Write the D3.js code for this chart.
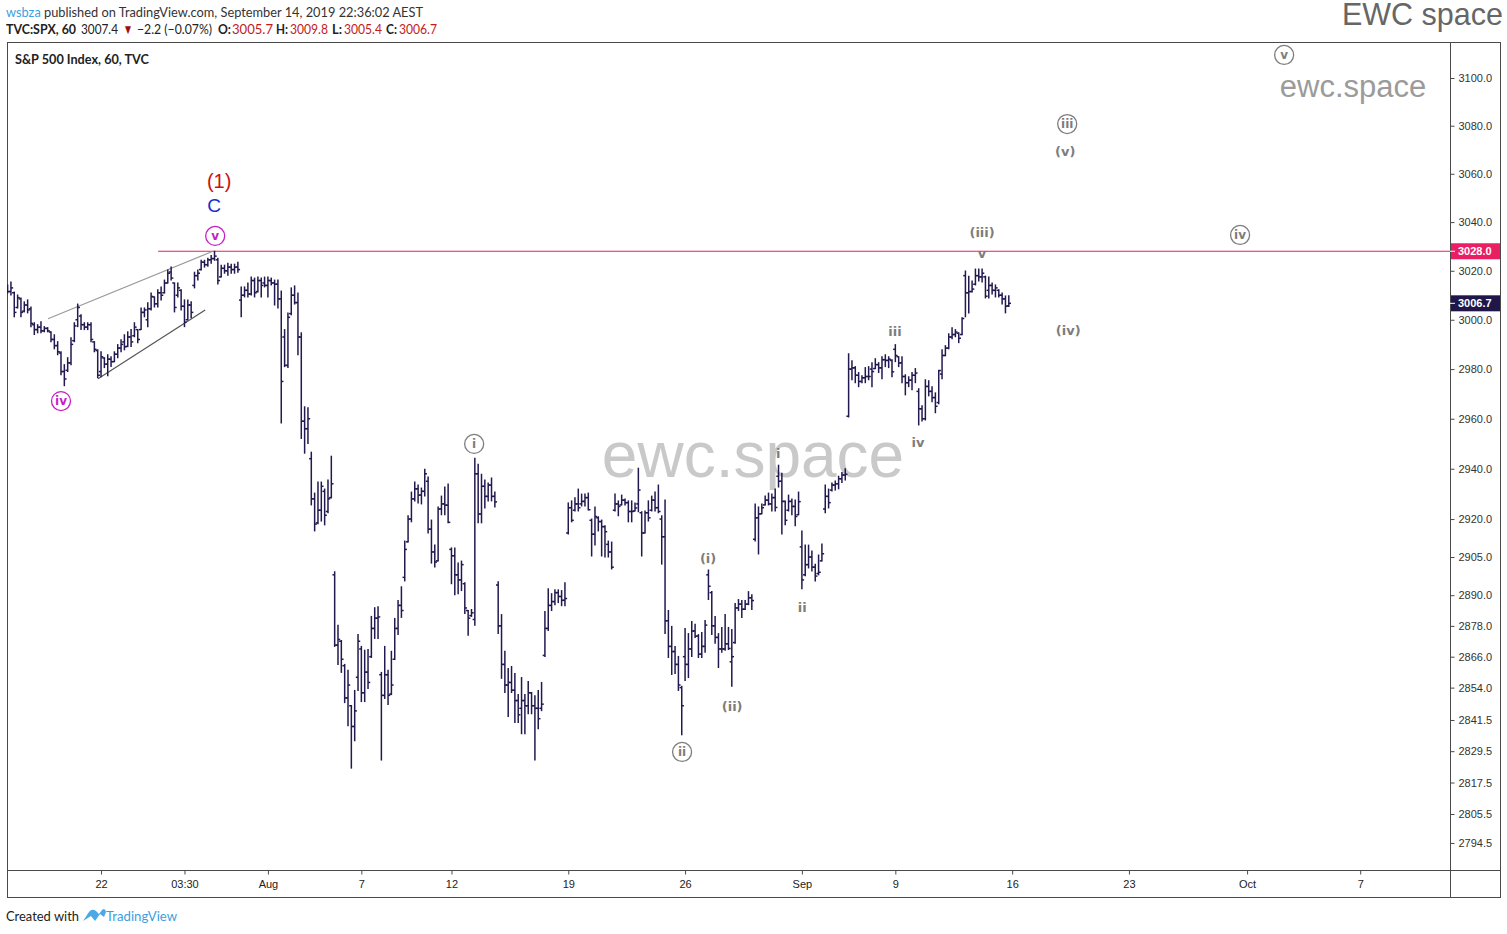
<!DOCTYPE html>
<html><head><meta charset="utf-8">
<script src="https://cdn.jsdelivr.net/npm/d3@7"></script>
<style>
html,body{margin:0;padding:0;background:#fff;}
svg{display:block;}
</style></head><body>
<svg id="c" width="1507" height="934"></svg>
<script>
// ---------------- DATA (SPX 60-min bars, 7 per session, Jul 16 - Sep 13 2019) ----------------
const opens = [
3013,3011.5,3011,3005,3008.5,3003.5,3006,
3004.5,2998,2996,2997,2995.5,2996.5,2995,
2992,2989.5,2986.5,2979,2979.5,2982.5,2991.5,
3000,3001.5,2998,2997,2998,2991,2987.5,
2979,2984.5,2982,2984,2983,2986,2988.5,
2991,2989.2,2993,2993.5,2996,2996,3003,
3000,3004.5,3009.3,3006.5,3011,3011,3015,
3019.5,3015,3010,3012,3005.5,3000,3006,
3014,3018,3020.5,3023.5,3022.5,3024.5,3025,
3024.5,3017.5,3021,3020,3021.5,3020.5,3021.5,
3008,3010,3012,3010.5,3016,3011.5,3016,
3015,3014,3016,3015,3014.5,3008.5,2993,
2981.5,3002.5,3010,3007,2993,2959,2956,
2944,2928,2918.5,2923.5,2931,2923,2928.5,
2898,2870.5,2872,2862.5,2850,2847,2839,
2858,2869,2852,2860,2866,2877,2881,
2859,2851,2859,2851.5,2865,2877,2886,
2897,2911,2920,2928,2932,2929.5,2931,
2935,2916,2907,2903.5,2924,2926,2925.5,
2908,2905.5,2898,2896,2894.5,2884,2882,
2880.5,2938,2922,2933,2929,2933.5,2929,
2894,2878,2863,2855,2856,2853,2849,
2846,2849,2847,2852,2847,2846,2846,
2866.5,2877,2886,2887.5,2891,2889.5,2888,
2914.5,2924.5,2923.5,2926,2926,2927,2928.5,
2919.5,2914,2920.5,2919,2917,2910,2907,
2923.5,2926,2925.6,2927.5,2926.5,2923,2923.2,
2926,2922.5,2914.5,2922.5,2923.5,2927.5,2924.5,
2920,2913,2880,2870,2868,2863,2854,
2866,2863,2869,2876,2874,2867,2870,
2898,2891,2878,2873.5,2869,2869,2871,
2864,2871.5,2885,2886.5,2884.5,2886.5,2889,
2912,2920.5,2922.1,2925.6,2927.5,2926,2928.5,
2937,2935,2927,2923.5,2927,2925,2921.7,
2909,2898,2902,2905,2901,2898.5,2903.5,
2924,2929,2931.5,2933.5,2934,2936,2937.5,
2961,2980,2980.5,2977.5,2975,2976.5,2977,
2980,2980.2,2981.8,2980.5,2983.8,2983.5,2983.5,
2988,2985,2982.5,2977,2974.5,2975.5,2977.5,
2971,2964,2960,2973,2971,2968.5,2966.5,
2978,2985.5,2988.5,2993,2994,2994.5,2994,
3018,3011,3011.5,3014.5,3018,3017.5,3017.5,
3012,3014,3012,3012,3010,3008.5,3005.7];
const highs = [
3014.2,3015.4,3011.3,3010.1,3008.9,3007.3,3008.1,
3005.2,2998.8,2998.0,2999.2,2997.2,2996.8,2995.1,
2993.9,2991.1,2987.0,2981.8,2984.6,2992.7,2998.8,
3006.4,3002.0,2998.8,2998.8,2998.8,2991.1,2987.8,
2987.0,2984.6,2985.8,2985.0,2987.0,2989.9,2991.9,
2993.9,2995.1,2996.0,2998.8,2996.0,3004.8,3004.8,
3006.9,3010.9,3009.3,3012.2,3013.4,3016.2,3020.3,
3021.5,3015.0,3015.0,3012.2,3008.1,3008.1,3007.3,
3019.4,3020.3,3024.3,3024.3,3025.1,3026.3,3028.0,
3025.1,3022.3,3022.3,3023.1,3022.7,3022.7,3023.5,
3013.4,3013.4,3015.0,3017.4,3017.0,3017.4,3017.0,
3017.4,3017.4,3017.0,3016.2,3016.2,3011.7,2996.0,
3002.8,3013.0,3013.8,3010.9,2994.7,2964.8,2964.4,
2946.6,2930.3,2934.7,2934.7,2931.9,2935.5,2945.0,
2899.2,2878.2,2872.3,2863.0,2860.7,2847.1,2852.9,
2874.6,2870.0,2868.5,2868.8,2881.7,2885.1,2885.5,
2859.9,2870.0,2860.7,2868.1,2880.9,2887.9,2893.3,
2911.3,2921.3,2930.7,2934.7,2933.5,2932.3,2939.8,
2936.7,2919.6,2909.7,2924.8,2929.1,2932.7,2933.9,
2908.6,2908.6,2902.6,2903.4,2894.9,2884.0,2884.4,
2944.2,2941.8,2937.8,2935.5,2934.3,2936.3,2930.7,
2895.3,2882.4,2868.1,2861.4,2862.2,2859.5,2851.3,
2857.9,2851.3,2856.4,2852.1,2850.9,2852.9,2856.0,
2883.6,2892.5,2890.6,2892.1,2892.1,2891.8,2894.9,
2926.4,2927.2,2928.4,2931.9,2929.9,2929.9,2930.3,
2920.0,2924.8,2920.9,2919.6,2917.3,2911.3,2910.9,
2929.9,2927.2,2929.5,2928.0,2927.2,2927.2,2926.4,
2940.2,2922.9,2923.2,2927.2,2929.1,2930.7,2933.5,
2921.3,2927.6,2884.0,2877.8,2870.0,2866.1,2854.5,
2877.0,2875.0,2879.7,2878.6,2874.6,2875.4,2880.1,
2899.9,2891.4,2881.7,2875.0,2877.4,2882.4,2877.4,
2876.6,2886.7,2888.3,2887.9,2887.9,2891.4,2890.2,
2926.0,2924.8,2926.0,2929.1,2930.3,2929.9,2931.9,
2941.4,2938.2,2927.2,2929.5,2928.0,2927.6,2930.7,
2915.3,2909.7,2909.7,2907.4,2902.2,2905.8,2910.1,
2933.5,2931.9,2934.3,2935.1,2937.0,2938.5,2940.0,
2986.2,2983.4,2981.0,2978.6,2977.3,2980.6,2981.0,
2982.6,2984.2,2982.6,2985.0,2985.8,2985.0,2983.8,
2989.9,2985.0,2985.0,2977.7,2976.9,2978.6,2980.2,
2972.1,2965.2,2975.7,2975.3,2972.9,2970.4,2979.5,
2987.8,2989.5,2994.3,2996.8,2996.0,2994.7,3000.8,
3019.9,3017.8,3015.8,3020.7,3020.7,3020.7,3017.8,
3017.4,3015.0,3014.2,3012.2,3010.9,3009.7,3009.8];
const lows = [
3010.9,3010.1,3001.2,3004.8,3001.2,3003.2,3002.8,
2997.2,2994.0,2994.7,2994.7,2995.1,2995.1,2991.1,
2988.2,2985.8,2977.7,2973.3,2979.0,2981.8,2991.1,
2997.2,2996.0,2996.0,2996.0,2991.1,2987.0,2976.5,
2976.9,2980.6,2977.3,2981.0,2983.0,2984.6,2987.0,
2987.8,2989.1,2989.1,2993.1,2990.7,2996.0,3001.2,
2997.2,3004.0,3005.2,3005.2,3008.1,3010.9,3015.0,
3016.2,3003.2,3009.3,3004.0,2997.2,3000.0,3000.8,
3013.0,3016.2,3020.3,3021.5,3021.9,3023.1,3024.3,
3014.6,3017.4,3019.0,3018.2,3019.0,3019.0,3019.4,
3001.2,3009.3,3009.3,3010.1,3009.3,3011.3,3009.3,
3013.4,3009.3,3014.2,3006.0,3004.8,2958.3,2981.0,
2980.6,3002.0,3006.4,2985.8,2952.1,2946.2,2950.1,
2925.6,2915.3,2918.1,2919.2,2917.7,2922.5,2928.4,
2870.0,2863.0,2859.9,2848.2,2839.3,2823.0,2833.5,
2852.9,2848.6,2848.6,2853.7,2865.7,2873.1,2873.1,
2826.1,2849.8,2847.5,2851.3,2864.9,2874.6,2881.3,
2895.6,2910.9,2918.9,2927.2,2926.4,2926.0,2929.1,
2914.5,2902.6,2901.1,2903.4,2921.7,2921.7,2918.5,
2894.5,2890.2,2890.6,2891.8,2882.8,2874.3,2881.7,
2878.2,2918.5,2918.5,2924.4,2927.2,2927.2,2924.8,
2875.0,2857.6,2852.1,2842.8,2852.1,2840.5,2840.5,
2836.2,2836.2,2843.9,2843.9,2826.1,2838.1,2845.1,
2866.1,2876.2,2884.0,2886.3,2887.1,2885.9,2885.9,
2914.1,2918.9,2923.2,2923.2,2925.2,2925.2,2923.6,
2905.4,2909.7,2915.3,2905.4,2905.0,2905.0,2900.3,
2923.2,2921.3,2925.6,2925.6,2918.9,2918.9,2923.2,
2922.9,2905.4,2914.5,2919.2,2923.2,2923.2,2922.5,
2902.2,2875.0,2865.7,2859.1,2859.5,2852.9,2835.8,
2856.8,2857.9,2866.1,2873.5,2865.7,2865.7,2867.7,
2888.3,2874.6,2871.2,2861.8,2867.7,2868.5,2868.8,
2854.5,2871.2,2884.0,2881.3,2884.4,2886.3,2884.4,
2911.3,2906.2,2922.1,2925.6,2925.6,2923.2,2923.2,
2932.7,2914.1,2917.7,2923.2,2921.7,2917.3,2921.7,
2892.5,2897.6,2900.7,2899.5,2895.6,2898.0,2903.4,
2922.5,2924.4,2931.1,2931.5,2932.0,2934.5,2935.5,
2960.7,2975.7,2974.5,2972.9,2974.5,2974.5,2975.7,
2972.9,2980.2,2978.6,2976.1,2981.0,2980.6,2976.9,
2983.0,2981.0,2974.5,2969.6,2972.9,2971.7,2974.5,
2957.5,2959.1,2959.5,2969.2,2966.8,2962.4,2966.0,
2976.1,2985.4,2988.2,2992.3,2993.1,2990.7,2993.9,
3001.2,3002.8,3011.3,3014.2,3015.8,3015.4,3008.9,
3008.9,3010.5,3009.3,3009.3,3006.4,3002.8,3005.4];
const closes = [
3011.5,3013,3003,3009,3003,3006,3004,
2998.5,2996,2997,2995.5,2996.5,2995.5,2992,
2989.5,2987,2979,2976,2982.5,2990,2997.5,
3005,2998,2997,2998,2992,2988,2977.5,
2985,2982,2984,2983,2986,2988.5,2990,
2989,2993,2991,2997,2992,3003,3004,
3004.5,3009.5,3006.5,3011,3010,3015,3019,
3017,3005,3013,3005.5,2999,3006,3003,
3018,3019,3023.5,3022.5,3024.5,3025,3026,
3016,3021,3020,3021.5,3020.5,3021.5,3020.5,
3010,3012,3010.5,3016,3011,3016,3014,
3014,3016,3015,3014.5,3008.5,2975,2981.5,
3001,3010,3007,2993,2959,2956,2960,
2928,2918,2923.5,2933,2921.5,2928,2934,
2870.5,2872.7,2865,2850,2855,2839,2845,
2872,2852,2860,2856,2877,2881,2881.5,
2851,2859,2851,2855,2877,2886,2884,
2908,2920,2928,2932,2929.5,2931,2938,
2916,2907,2903,2924,2926,2925.5,2918.7,
2905.5,2898,2896,2902,2885,2881,2883.1,
2938,2922,2933,2929,2933.5,2929,2926.8,
2878,2863,2855,2856,2853,2849,2843.5,
2849,2847,2852,2847,2846,2842,2847.6,
2877,2886,2887.5,2891,2889.5,2888,2888.7,
2924.5,2919.5,2926,2924.5,2927,2928.5,2923.7,
2914,2921,2919,2917,2915,2907,2901,
2926,2925,2927.5,2926.5,2923,2923,2924.4,
2931.5,2914.5,2922.5,2920.5,2927.5,2924.5,2923,
2913,2880,2870,2868,2863,2855,2847,
2863,2869,2876,2874,2867,2870,2878.3,
2893.5,2878,2873.5,2869,2869,2871,2869.2,
2866,2885,2886.5,2884.5,2886.5,2889,2887.9,
2920.5,2922,2924.5,2927.5,2926,2928.5,2924.6,
2935,2927,2919.5,2927,2925,2921,2926.9,
2896,2902,2905,2901,2897.5,2899,2906.3,
2929,2926.5,2933.5,2934,2936,2937.5,2937.8,
2980,2980.5,2977.5,2975,2976.5,2977,2977,
2979,2981.8,2980.5,2983.8,2983.5,2984,2978.9,
2985.5,2982.5,2977,2974.5,2975.5,2977.5,2978.4,
2964,2960,2973,2971,2968.5,2965,2979.4,
2985.5,2988.5,2993,2994,2995,2992.5,3000.5,
3011,3011.5,3012.5,3018,3017.5,3019,3009.6,
3014,3012,3013,3010,3008.5,3005.5,3006.7];

// x axis: bar index of each tick and its label (AEST session boundaries)
const xTickIndex  = [28, 53, 78, 106, 133, 168, 203, 238, 266, 301, 336, 371.4, 405.3];
const xTickLabels = ["22","03:30","Aug","7","12","19","26","Sep","9","16","23","Oct","7"];
// y axis (log scale) tick values
const yTickValues = [3100,3080,3060,3040,3020,3000,2980,2960,2940,2920,2905,2890,2878,2866,2854,2841.5,2829.5,2817.5,2805.5,2794.5];

const resistanceLevel = 3028.0;
const resistanceStartIndex = 45.1;
const lastPrice = 3006.7;
// wedge trend lines [barIndex, price]
const wedgeUpper = [[12.1, 3000.4], [61.5, 3028.0]];
const wedgeLower = [[27.1, 2976.1], [59.2, 3004.0]];

// Elliott-wave annotations: text, bar index, price, style
const waveLabels = [
  {t:"(1)",  i:63.4,  p:3057.0, s:"red"},
  {t:"C",    i:61.9,  p:3047.1, s:"blue"},
  {t:"v",    i:62.2,  p:3034.3, s:"magentaCircle"},
  {t:"iv",   i:16.0,  p:2967.1, s:"magentaCircle"},
  {t:"i",    i:139.8, p:2949.9, s:"grayCircle"},
  {t:"ii",   i:202.1, p:2829.2, s:"grayCircle"},
  {t:"(i)",  i:209.9, p:2904.6, s:"gray"},
  {t:"(ii)", i:217.1, p:2846.9, s:"gray"},
  {t:"i",    i:230.9, p:2946.3, s:"gray"},
  {t:"ii",   i:238.1, p:2885.4, s:"gray"},
  {t:"iii",  i:265.9, p:2995.4, s:"gray"},
  {t:"iv",   i:272.8, p:2950.6, s:"gray"},
  {t:"v",    i:292.0, p:3027.3, s:"gray"},
  {t:"(iii)",i:292.0, p:3035.9, s:"gray"},
  {t:"(iv)", i:317.8, p:2995.8, s:"gray"},
  {t:"iii",  i:317.5, p:3080.7, s:"grayCircle"},
  {t:"(v)",  i:316.9, p:3069.5, s:"gray"},
  {t:"iv",   i:369.3, p:3034.7, s:"grayCircle"},
  {t:"v",    i:382.5, p:3109.7, s:"grayCircle"}
];

// ---------------- DRAWING ----------------
const plot = {left:7, right:1450, top:42, bottom:870, outerRight:1500, outerBottom:897};
const svg = d3.select("#c");
const x = d3.scaleLinear().domain([-0.18, 432.2]).range([plot.left, plot.right]);
const y = d3.scaleLog().domain([2784.27, 3115.17]).range([plot.bottom, plot.top]);

const SANS = "'Liberation Sans', Arial, sans-serif";
const UI = "Lato, 'Open Sans', sans-serif";

svg.append("defs").append("clipPath").attr("id","clip")
  .append("rect").attr("x",plot.left).attr("y",plot.top)
  .attr("width",plot.right-plot.left).attr("height",plot.bottom-plot.top);

// watermark
svg.append("text").attr("x",753).attr("y",477).attr("text-anchor","middle")
  .style("font-family",SANS).style("font-size","64px").attr("fill","#c9c9c9").text("ewc.space");
svg.append("text").attr("x",1353).attr("y",97).attr("text-anchor","middle")
  .style("font-family",SANS).style("font-size","31px").attr("fill","#9b9b9b").text("ewc.space");

// frame
svg.append("rect").attr("x",plot.left+0.5).attr("y",plot.top+0.5)
  .attr("width",plot.outerRight-plot.left).attr("height",plot.outerBottom-plot.top)
  .attr("fill","none").attr("stroke","#4a4a4a");
svg.append("line").attr("x1",plot.right+0.5).attr("x2",plot.right+0.5)
  .attr("y1",plot.top).attr("y2",plot.outerBottom+0.5).attr("stroke","#4a4a4a");
svg.append("line").attr("x1",plot.left).attr("x2",plot.outerRight+0.5)
  .attr("y1",plot.bottom+0.5).attr("y2",plot.bottom+0.5).attr("stroke","#4a4a4a");

const chart = svg.append("g").attr("clip-path","url(#clip)");

// resistance line
chart.append("line").attr("x1",x(resistanceStartIndex)).attr("x2",plot.right)
  .attr("y1",y(resistanceLevel)).attr("y2",y(resistanceLevel))
  .attr("stroke","#e91e63").attr("stroke-width",1.2);

// wedge lines
const lineGen = d3.line().x(d=>x(d[0])).y(d=>y(d[1]));
chart.append("path").attr("d",lineGen(wedgeUpper)).attr("stroke","#9a9a9a").attr("stroke-width",1.2).attr("fill","none");
chart.append("path").attr("d",lineGen(wedgeLower)).attr("stroke","#555").attr("stroke-width",1.2).attr("fill","none");

// OHLC bars
const bars = opens.map((o,i)=>({i, o, h:highs[i], l:lows[i], c:closes[i]}));
const bg = chart.append("g").attr("stroke","#21194f").attr("stroke-width",1.5);
bg.selectAll("line.hl").data(bars).join("line").attr("class","hl")
  .attr("x1",d=>x(d.i)).attr("x2",d=>x(d.i)).attr("y1",d=>y(d.h)-0.5).attr("y2",d=>y(d.l)+0.5);
bg.selectAll("line.op").data(bars).join("line").attr("class","op")
  .attr("x1",d=>x(d.i)-2.2).attr("x2",d=>x(d.i)).attr("y1",d=>y(d.o)).attr("y2",d=>y(d.o));
bg.selectAll("line.cl").data(bars).join("line").attr("class","cl")
  .attr("x1",d=>x(d.i)).attr("x2",d=>x(d.i)+2.2).attr("y1",d=>y(d.c)).attr("y2",d=>y(d.c));

// wave labels
const styles = {
  red:{color:"#cc1111", size:20, weight:"normal", font:SANS, circle:false},
  blue:{color:"#1030d0", size:19, weight:"normal", font:SANS, circle:false},
  magentaCircle:{color:"#c51fc5", size:12, weight:"bold", font:"'DejaVu Sans', sans-serif", circle:true},
  grayCircle:{color:"#7d7d7d", size:12, weight:"bold", font:"'DejaVu Sans', sans-serif", circle:true},
  gray:{color:"#7d7d7d", size:13, weight:"bold", font:"'DejaVu Sans', sans-serif", circle:false}
};
const lg = svg.append("g");
waveLabels.forEach(w=>{
  const st = styles[w.s];
  const cx = x(w.i), cy = y(w.p);
  if (st.circle) {
    lg.append("circle").attr("cx",cx).attr("cy",cy).attr("r",9.5)
      .attr("fill","#fff").attr("stroke",st.color).attr("stroke-width",1.3);
  }
  lg.append("text").attr("x",cx).attr("y",cy).attr("dy","0.36em").attr("text-anchor","middle")
    .style("font-family",st.font).style("font-size",st.size+"px").style("font-weight",st.weight)
    .attr("fill",st.color).text(w.t);
});

// right axis
const ya = svg.append("g").attr("transform",`translate(${plot.right+0.5},0)`)
  .call(d3.axisRight(y).tickValues(yTickValues).tickFormat(d3.format(".1f")).tickSize(4).tickPadding(4));
ya.select(".domain").remove();
ya.selectAll("line").attr("stroke","#4a4a4a");
ya.selectAll("text").style("font-family",SANS).style("font-size","11px").attr("fill","#333");

// bottom axis
const xa = svg.append("g").attr("transform",`translate(0,${plot.bottom+0.5})`)
  .call(d3.axisBottom(x).tickValues(xTickIndex).tickFormat((d,k)=>xTickLabels[k]).tickSize(4).tickPadding(6));
xa.select(".domain").remove();
xa.selectAll("line").attr("stroke","#4a4a4a");
xa.selectAll("text").style("font-family",SANS).style("font-size","11px").attr("fill","#222");

// price boxes on axis
function priceBox(v, fill){
  const yy = y(v);
  svg.append("rect").attr("x",plot.right+1).attr("y",yy-8).attr("width",plot.outerRight-plot.right-1).attr("height",16).attr("fill",fill);
  svg.append("line").attr("x1",plot.right).attr("x2",plot.right+5).attr("y1",yy).attr("y2",yy).attr("stroke","#fff");
  svg.append("text").attr("x",plot.right+8).attr("y",yy).attr("dy","0.35em")
    .style("font-family",SANS).style("font-size","11px").style("font-weight","bold").attr("fill","#fff").text(d3.format(".1f")(v));
}
priceBox(resistanceLevel, "#e91e63");
priceBox(lastPrice, "#1f1649");

// header
const h1 = svg.append("text").attr("x",6).attr("y",17).style("font-family",UI).style("font-size","13.5px")
  .attr("textLength",417).attr("lengthAdjust","spacingAndGlyphs");
h1.append("tspan").attr("fill","#3d9fe0").text("wsbza");
h1.append("tspan").attr("fill","#333").text(" published on TradingView.com, September 14, 2019 22:36:02 AEST");

const red = "#c21b1b";
const h2parts = [["TVC:SPX, 60","#222","bold",6,70],["3007.4","#222","normal",81,37],["▼","#9e0e0e","normal",123,10],
 ["−2.2 (−0.07%)","#222","normal",137,75],
 ["O:","#222","bold",218,13],["3005.7",red,"normal",232,41],["H:","#222","bold",276,12],["3009.8",red,"normal",290,38],
 ["L:","#222","bold",332,10],["3005.4",red,"normal",344,38],["C:","#222","bold",386,11],["3006.7",red,"normal",399,38]];
h2parts.forEach(([t,c,w,xx,len])=>svg.append("text").attr("x",xx).attr("y",33.5)
  .style("font-family",UI).style("font-size","13.5px").style("font-weight",w).attr("fill",c)
  .attr("textLength",len).attr("lengthAdjust","spacingAndGlyphs").text(t));

svg.append("text").attr("x",15).attr("y",64).style("font-family",UI).style("font-size","12.5px")
  .style("font-weight","bold").attr("fill","#222").attr("textLength",134).attr("lengthAdjust","spacingAndGlyphs")
  .text("S&P 500 Index, 60, TVC");

svg.append("text").attr("x",1503).attr("y",25).attr("text-anchor","end").style("font-family",SANS)
  .style("font-size","30.5px").attr("fill","#666").text("EWC space");

// footer
svg.append("text").attr("x",6).attr("y",921).style("font-family",UI).style("font-size","13.5px")
  .attr("fill","#222").attr("textLength",73).attr("lengthAdjust","spacingAndGlyphs").text("Created with");
svg.append("path")
  .attr("d","M83,921 L89,912 Q92,908 96,911 L99,914 L102,910 Q105,907 106,912 L104,917 L100,914 L95,921 L91,916 Z")
  .attr("fill","#4aa9e6");
svg.append("text").attr("x",106).attr("y",921).style("font-family",UI).style("font-size","13.5px")
  .attr("fill","#3d9fe0").attr("textLength",71).attr("lengthAdjust","spacingAndGlyphs").text("TradingView");
</script>
</body></html>
